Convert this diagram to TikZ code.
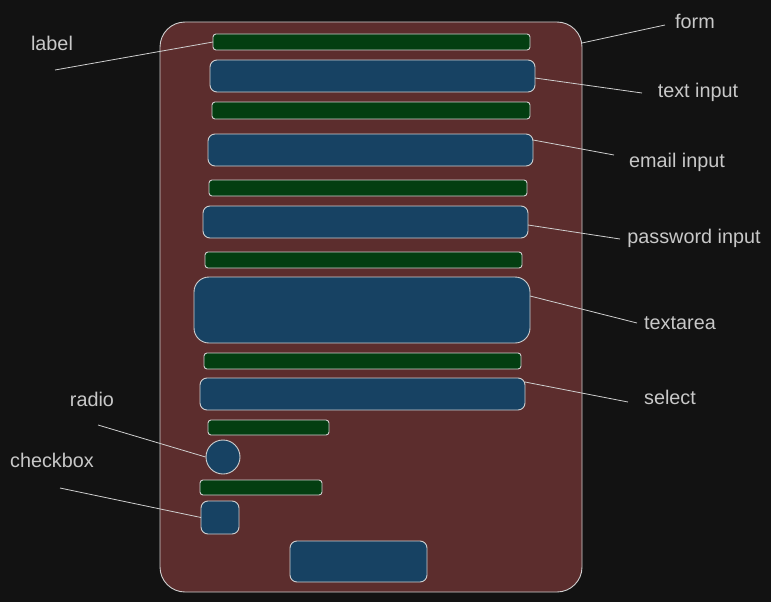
\documentclass[tikz,border=0pt]{standalone}
\usepackage{fontspec}
\setmainfont{Liberation Sans}
\definecolor{bgcol}{HTML}{121212}
\definecolor{formcol}{HTML}{5C2D2D}
\definecolor{labelcol}{HTML}{033E11}
\definecolor{fieldcol}{HTML}{174263}
\definecolor{linecol}{HTML}{CFCFCF}
\definecolor{textcol}{HTML}{C8C8C8}

\begin{document}
\begin{tikzpicture}[x=1pt,y=-1pt,
  box/.style={draw=linecol,line width=0.9pt,inner sep=0pt,outer sep=0pt,rounded corners=#1},
  box/.default=6pt,
  labelbar/.style={box=3pt,fill=labelcol,minimum height=16pt},
  field/.style={box=7pt,fill=fieldcol,minimum height=32pt},
  tag/.style={text=textcol,font=\fontsize{19.8}{24}\selectfont,inner sep=0pt},
  pointer/.style={draw=linecol,line width=0.8pt}]
\fill [bgcol] (0,0) rectangle (771,602) ;
\useasboundingbox (0,0) rectangle (771,602) ;
% form and its fields
\node [box=25pt,fill=formcol,minimum width=422pt,minimum height=570pt] (form) at (371,307) {} ;
\node [labelbar,minimum width=317pt] (lab1) at (371.5,42) {} ;
\node [field,minimum width=325pt] (textin) at (372.5,76) {} ;
\node [labelbar,minimum width=318pt,minimum height=17pt] (lab2) at (371,110.5) {} ;
\node [field,minimum width=325pt] (emailin) at (370.5,150) {} ;
\node [labelbar,minimum width=318pt] (lab3) at (368,188) {} ;
\node [field,minimum width=325pt] (passin) at (365.5,222) {} ;
\node [labelbar,minimum width=317pt] (lab4) at (363.5,260) {} ;
\node [field,box=15pt,minimum width=336pt,minimum height=66pt] (textarea) at (362,310) {} ;
\node [labelbar,minimum width=317pt] (lab5) at (362.5,361) {} ;
\node [field,minimum width=325pt] (select) at (362.5,394) {} ;
\node [labelbar,minimum width=121pt,minimum height=15pt] (lab6) at (268.5,427.5) {} ;
\node [draw=linecol,line width=0.9pt,fill=fieldcol,circle,minimum size=34pt,inner sep=0pt] (radio) at (223,457) {} ;
\node [labelbar,minimum width=122pt,minimum height=15pt] (lab7) at (261,487.5) {} ;
\node [field,minimum width=38pt,minimum height=33pt] (check) at (220,517.5) {} ;
\node [field,minimum width=137pt,minimum height=41pt] (button) at (358.5,561.5) {} ;
% tags
\node [tag] (tlabel) at (52,43) {label} ;
\node [tag] (tform) at (695,21) {form} ;
\node [tag] (ttext) at (698,92) {text input} ;
\node [tag] (temail) at (677,162) {email input} ;
\node [tag] (tpass) at (694,238) {password input} ;
\node [tag] (tarea) at (680,323) {textarea} ;
\node [tag] (tselect) at (670,397) {select} ;
\node [tag] (tradio) at (92,399) {radio} ;
\node [tag] (tcheck) at (52,460) {checkbox} ;
\coordinate (plabel) at (55,70) ;
\coordinate (pform) at (665,25) ;
\coordinate (ptext) at (642,93) ;
\coordinate (pemail) at (614,155) ;
\coordinate (ppass) at (620,239) ;
\coordinate (parea) at (637,323) ;
\coordinate (pselect) at (628,402) ;
\coordinate (pradio) at (98,425) ;
\coordinate (pcheck) at (60,488) ;
% pointers
\draw [pointer] (plabel) -- (lab1.west) ;
\draw [pointer] (pform) -- (form.north east |- 0,43) ;
\draw [pointer] (ptext) -- (textin.east |- 0,78) ;
\draw [pointer] (pemail) -- (emailin.east |- 0,140) ;
\draw [pointer] (ppass) -- (passin.east |- 0,225) ;
\draw [pointer] (parea) -- (textarea.east |- 0,296) ;
\draw [pointer] (pselect) -- (select.east |- 0,382) ;
\draw [pointer] (pradio) -- (radio.west) ;
\draw [pointer] (pcheck) -- (check.west) ;
\end{tikzpicture}
\end{document}
